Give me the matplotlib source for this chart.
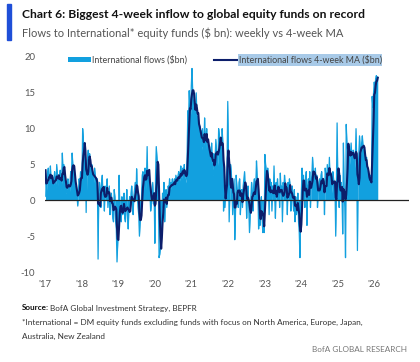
import numpy as np
import pandas as pd
import matplotlib
matplotlib.use("Agg")
import matplotlib.pyplot as plt
from matplotlib.patches import Patch, Rectangle
from matplotlib.lines import Line2D

# weekly flows to International equity funds ($bn)
flows_2017 = [4.2, 0.5, 2.5, 3.8, 4.5, 2.0, 3.0, 4.8, 2.5, 3.5, 2.0, 1.5, 3.0, 4.0, 2.5, 1.8,
              5.0, 3.5, 2.0, 3.5, 2.8, 4.2, 1.5, 2.5, 6.6, 4.0, 5.0, 3.0, 2.0, 1.0, 1.5, 2.5,
              3.0, 1.5, 0.8, 2.5, 4.0, 3.5, 6.6, 5.0, 4.5, 3.0, 2.0, 1.0, 2.0, 0.5, -0.8, 1.5,
              3.0, 2.0, 4.0, 3.5]
flows_2018 = [3.0, 10.0, 8.5, 6.0, 7.5, 5.5, -1.7, 4.5, 6.0, 7.0, 5.0, 6.5, 4.0, 3.5, 5.0, 4.0,
              2.0, 3.0, 4.5, 3.5, 1.5, 2.0, 3.0, -8.2, 1.0, 2.5, 1.5, -1.0, 2.5, 3.5, 0.5, 1.0,
              -1.5, 2.0, 0.5, 1.5, 3.0, -1.0, 0.5, 2.0, -2.0, 0.5, 1.0, -1.0, -2.5, -3.0, 1.5, 0.5,
              -3.0, -4.0, -8.6, -6.0]
flows_2019 = [-3.5, 3.5, -1.0, -2.5, -3.0, 0.5, -2.0, -1.5, 1.0, -2.5, -3.0, -0.5, 1.5, -2.0, -4.0, -1.0,
              0.5, -1.5, 1.0, 2.0, -0.5, -2.0, 0.5, 1.5, 2.5, 0.0, 4.4, 1.0, -1.0, -2.0, -5.0, -3.0,
              -1.0, 0.5, 3.5, 4.0, 2.5, 3.0, 4.5, 1.5, 3.0, 7.5, 2.0, 4.0, 3.5, 1.0, -1.5, -0.5,
              1.0, 2.5, -0.5, 1.0]
flows_2020 = [-6.0, 3.5, 7.5, 6.0, 4.5, 2.0, -8.0, -7.5, -6.5, -5.0, -2.0, 1.0, -1.0, 2.5, -3.0, 0.5,
              1.5, -1.0, 0.5, 2.0, 1.5, 3.0, 1.0, 2.5, 2.0, 3.0, 1.5, 2.5, 3.0, 2.0, 3.5, 3.0,
              2.5, 3.4, 4.0, 2.5, 3.5, 4.8, 3.0, 4.0, 4.5, 3.5, 5.0, 3.0, 2.5, 3.0, 6.0, 12.5,
              10.5, 15.3, 13.0, 12.0]
flows_2021 = [16.0, 18.4, 15.0, 12.0, 14.0, 13.0, 11.5, 15.0, 12.0, 10.0, 11.7, 9.0, 10.4, 8.0, 9.7, 7.0,
              10.0, 7.5, 8.0, 11.5, 6.5, 9.0, 10.0, 7.0, 8.0, 6.0, 7.5, 5.0, 6.0, 8.0, 4.5, 3.5,
              6.5, 5.0, 6.0, 8.5, 7.0, 5.5, 4.5, 10.0, 9.0, 8.5, 7.5, 6.0, 10.0, 8.0, -1.5, 2.0,
              -1.0, 1.5, 3.0, 5.0]
flows_2022 = [13.8, 6.0, -3.0, 1.0, 5.0, 4.0, 2.0, -2.0, 0.5, 3.0, -5.5, -2.0, 3.5, 2.0, 1.0, -1.0,
              2.5, 3.0, -2.0, 0.5, 1.5, -1.0, 2.0, 3.0, 4.0, 1.0, 0.5, -2.5, 1.5, 2.0, -1.0, -4.5,
              -2.0, 0.5, 2.5, 1.0, -1.5, 2.0, 3.0, 0.0, 2.0, 5.5, 3.0, 1.5, -4.0, -2.0, -3.5, -1.0,
              0.5, -2.5, -4.5, -3.0]
flows_2023 = [-4.5, 6.4, 5.0, 4.0, 1.0, 4.5, 2.0, -2.0, 3.0, 1.5, 2.5, -1.5, 2.0, 1.0, 4.8, 0.5,
              -2.5, 2.5, 1.5, 3.0, 0.5, 2.0, -1.0, 3.8, 1.0, 2.0, -3.0, 2.5, 1.5, 3.5, 2.0, 0.0,
              1.5, -2.0, 2.5, 1.0, 3.0, 2.0, -1.5, 1.0, 2.0, 0.0, -1.5, 1.5, -3.0, 0.5, -2.0, -1.0,
              1.0, -3.0, -4.5, -8.0]
flows_2024 = [-2.0, 1.0, 4.5, 2.0, 3.5, 1.0, -1.0, 2.5, 4.0, -3.5, 2.0, 3.0, 1.5, 4.0, -1.0, 2.5,
              3.5, 6.0, 4.0, 2.5, 3.0, 4.5, 2.0, 3.5, -1.0, 1.0, 2.5, 3.0, 0.5, 3.5, 4.0, 1.5,
              3.0, 2.0, -2.0, 4.5, 3.5, 2.0, 5.0, 4.0, 3.0, 6.0, 2.5, 3.5, 1.0, 2.0, 4.0, 3.0,
              1.5, 2.0, -5.0, 2.0]
flows_2025 = [10.8, 3.0, 2.0, -1.0, 3.5, 1.0, 2.5, 0.5, -4.7, 8.0, 1.5, -1.0, -8.0, 10.6, 8.0, 7.0,
              6.0, 7.5, 5.0, 6.5, 8.0, 6.0, 5.5, 7.0, 6.5, 4.5, 6.0, 10.0, 5.5, -7.0, 4.0, 6.5,
              9.0, 7.0, 5.5, 8.0, 9.0, 7.5, 6.0, 7.0, 5.0, 4.5, 6.0, 3.5, 4.0, 2.5, 3.0, 2.0,
              3.5, 1.5, 14.5, 13.0]
flows_2026 = [15.0, 16.5, 15.5, 17.0, 17.4, 16.8, 17.2]

year_ticks = [2017, 2018, 2019, 2020, 2021, 2022, 2023, 2024, 2025, 2026]
year_labels = ["'17", "'18", "'19", "'20", "'21", "'22", "'23", "'24", "'25", "'26"]
y_ticks = [-10, -5, 0, 5, 10, 15, 20]

flows = pd.Series(flows_2017 + flows_2018 + flows_2019 + flows_2020 + flows_2021 +
                  flows_2022 + flows_2023 + flows_2024 + flows_2025 + flows_2026)
dates = pd.date_range("2017-01-06", periods=len(flows), freq="W-FRI")
ma4 = flows.rolling(4, min_periods=1).mean()

light_blue = "#12A0DF"
navy = "#0C1E6B"
grey = "#555555"
font = "Lato"

plt.rcParams["font.family"] = [font, "DejaVu Sans"]

fig = plt.figure(figsize=(4.2, 3.62), dpi=100)
ax = fig.add_axes([45 / 420, 90 / 362, 364 / 420, 215 / 362])

# weekly flows: filled area, with an outline to keep single-week spikes visible
ax.fill_between(dates, flows, 0, color=light_blue, linewidth=0)
ax.plot(dates, flows, color=light_blue, linewidth=0.9)
ax.plot(dates, ma4, color=navy, linewidth=1.5)
ax.axhline(0, color="#222222", linewidth=0.9)

ax.set_ylim(-10, 20)
ax.set_xlim(pd.Timestamp("2017-01-01"), pd.Timestamp("2026-12-15"))
ax.set_yticks(y_ticks)
ax.set_yticklabels([str(v) for v in y_ticks])
ax.set_xticks([pd.Timestamp(f"{y}-01-01") for y in year_ticks])
ax.set_xticklabels(year_labels)
ax.tick_params(length=0, labelsize=6.8, colors=grey)
ax.tick_params(axis="y", pad=7)
ax.tick_params(axis="x", pad=6)
for s in ax.spines.values():
    s.set_visible(False)

handles = [Patch(facecolor=light_blue, edgecolor="none"),
           Line2D([], [], color=navy, linewidth=1.5)]
leg = ax.legend(handles, ["International flows ($bn)", "International flows 4-week MA ($bn)"],
                loc="center left", bbox_to_anchor=(68 / 420, 1 - 60 / 362),
                bbox_transform=fig.transFigure, ncol=2, frameon=False,
                fontsize=6.4, handlelength=2.6, handleheight=0.6, handletextpad=0.15,
                columnspacing=3.0, borderpad=0, borderaxespad=0)
for t in leg.get_texts():
    t.set_color("#444444")
leg.get_texts()[1].set_bbox(dict(facecolor="#A8CAE8", edgecolor="none", pad=0.6))

# header
fig.patches.append(Rectangle((7 / 420, 1 - 40 / 362), 4 / 420, 36 / 362,
                             transform=fig.transFigure, color="#1F4FD8"))
fig.text(22 / 420, 1 - 15 / 362, "Chart 6: Biggest 4-week inflow to global equity funds on record",
         fontsize=8.7, fontweight="bold", color="#111111", va="center")
fig.text(22 / 420, 1 - 33 / 362, "Flows to International* equity funds ($ bn): weekly vs 4-week MA",
         fontsize=8.0, color="#555555", va="center")

# footer
fig.text(22 / 420, 1 - 308 / 362, "Source:", fontsize=5.9, fontweight="bold",
         color="#111111", va="center")
fig.text(49.5 / 420, 1 - 308 / 362, "BofA Global Investment Strategy, BEPFR", fontsize=5.9,
         color="#333333", va="center")
fig.text(22 / 420, 1 - 322 / 362,
         "*International = DM equity funds excluding funds with focus on North America, Europe, Japan,",
         fontsize=5.9, color="#333333", va="center")
fig.text(22 / 420, 1 - 336 / 362, "Australia, New Zealand", fontsize=5.9, color="#333333", va="center")
fig.text(407 / 420, 1 - 350 / 362, "BofA GLOBAL RESEARCH", fontsize=5.9, color="#777777",
         va="center", ha="right")

fig.savefig("out.png", dpi=100)
